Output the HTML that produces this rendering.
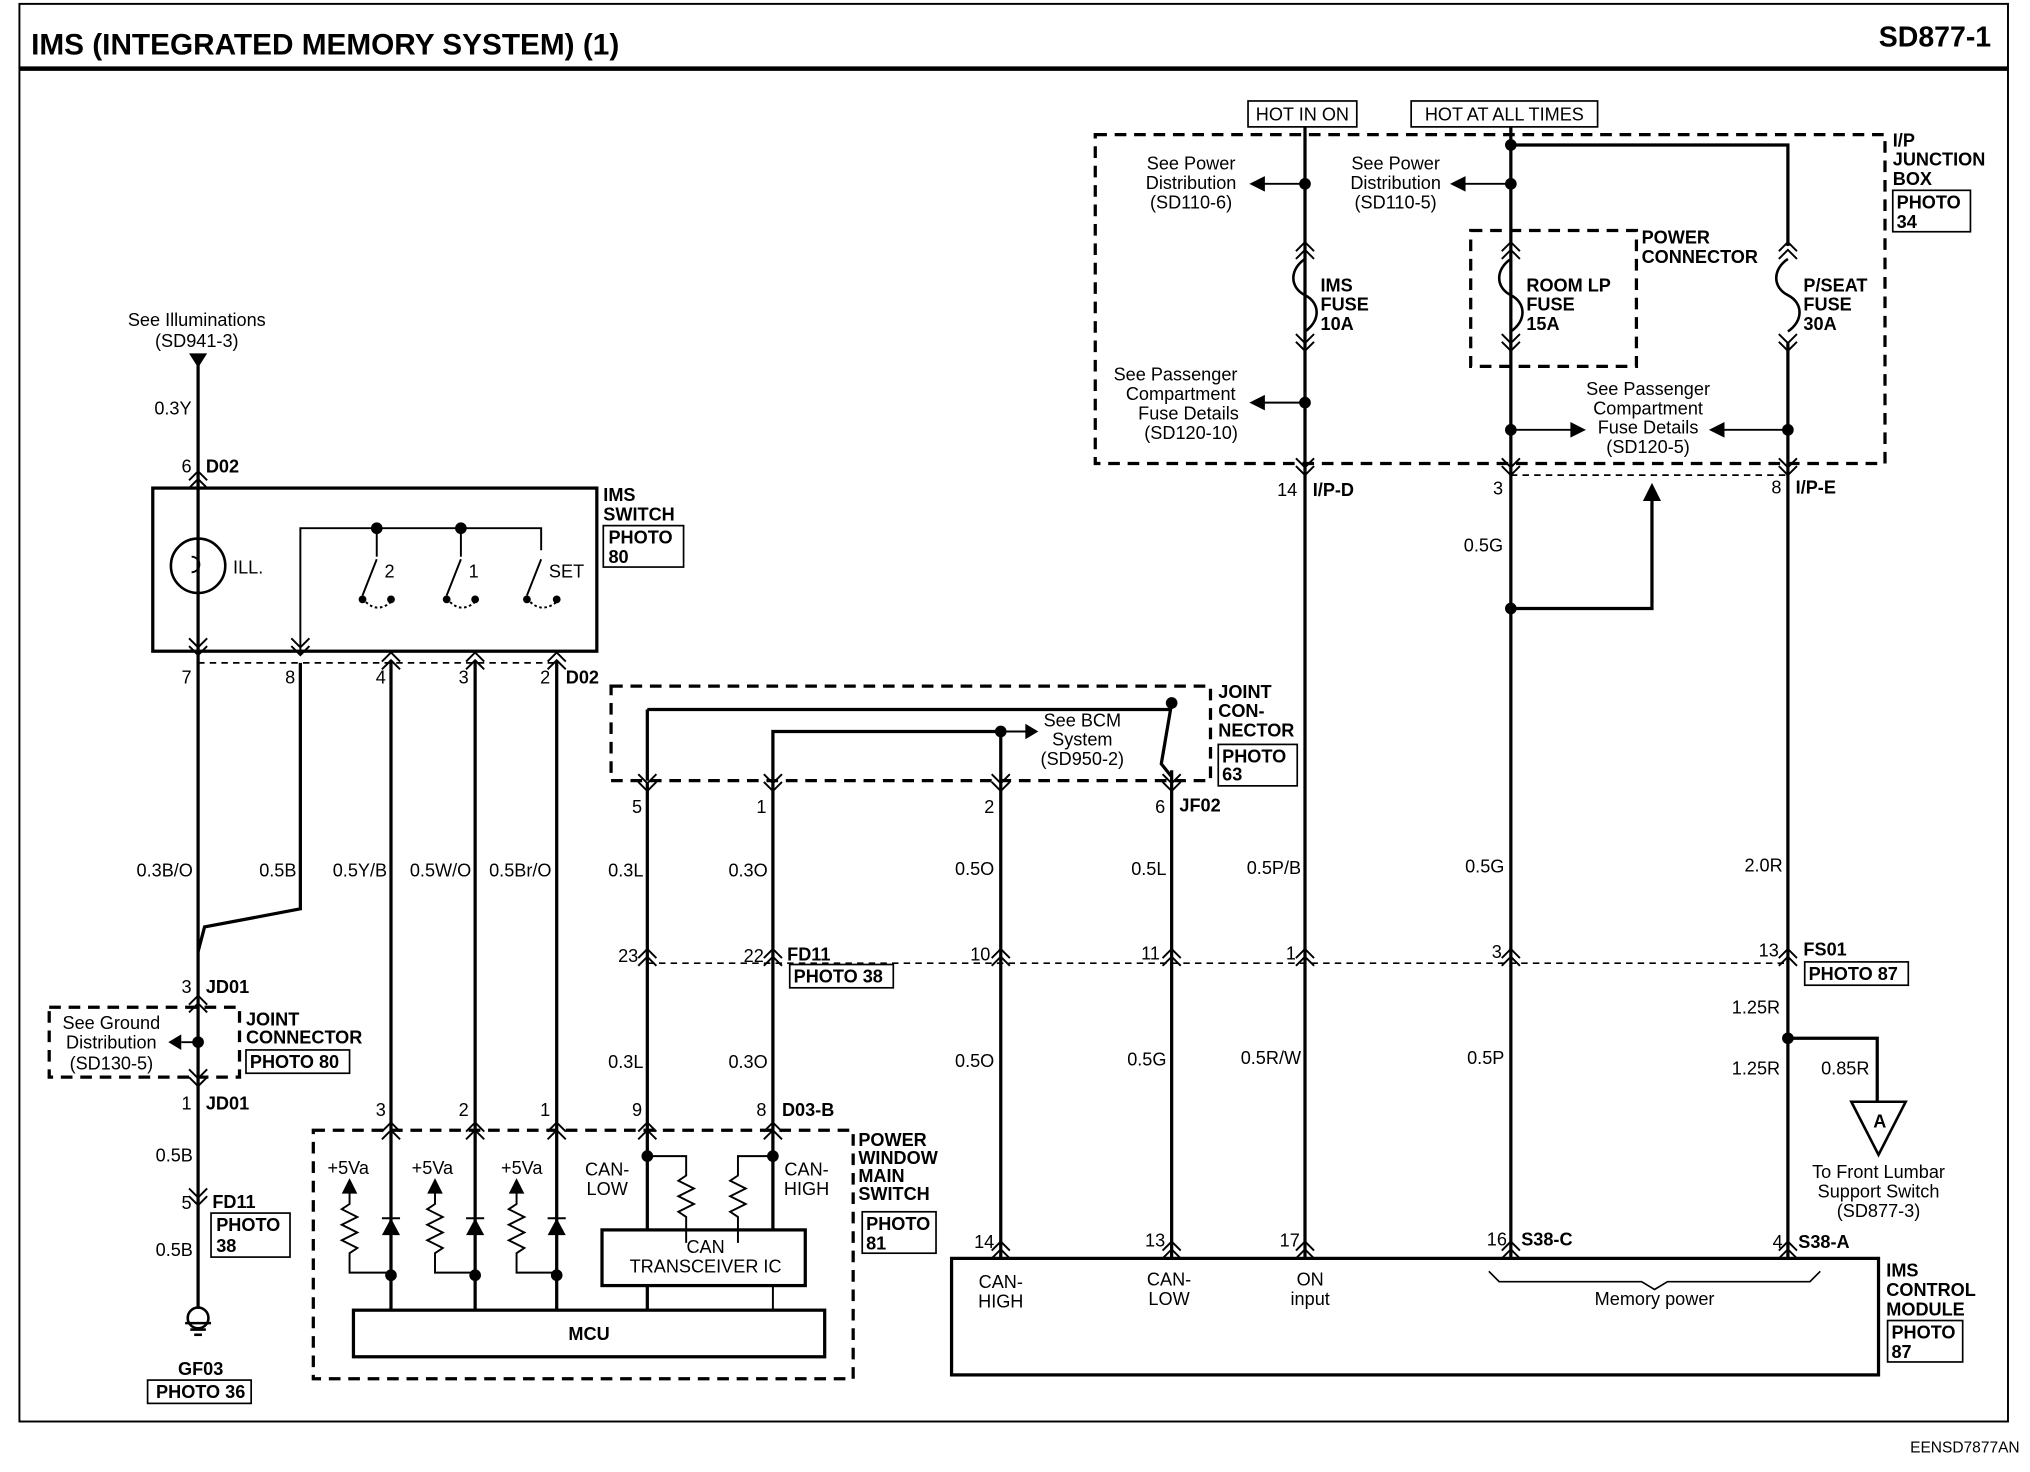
<!DOCTYPE html>
<html><head><meta charset="utf-8"><style>
html,body{margin:0;padding:0;background:#fff}
svg{display:block}
text{font-family:"Liberation Sans",Arial,sans-serif;font-size:14px;fill:#000}
.b{font-weight:bold}
</style></head><body>
<svg width="2030" height="1472" viewBox="0 0 1568 1137" xmlns="http://www.w3.org/2000/svg">
<defs>
<g id="u" fill="none" stroke="#000" stroke-width="1.5"><path d="M-7,6 L0,-1 L7,6 M-7,12 L0,5 L7,12"/></g>
<g id="d" fill="none" stroke="#000" stroke-width="1.5"><path d="M-7,-6 L0,1 L7,-6 M-7,-12 L0,-5 L7,-12"/></g>
</defs>
<g fill="none" stroke="#000">
<rect x="15" y="3" width="1536" height="1095" stroke-width="1.5"/>
<line x1="15" y1="53" x2="1551" y2="53" stroke-width="3.5"/>

<g stroke-width="2.5">
<line x1="153" y1="278" x2="153" y2="1010"/>
<polyline points="232,512 232,702 158,716 153,735"/>
<line x1="302" y1="510" x2="302" y2="1012"/>
<line x1="367" y1="510" x2="367" y2="1012"/>
<line x1="430" y1="510" x2="430" y2="1012"/>
<line x1="500" y1="605" x2="500" y2="950"/>
<line x1="500" y1="993" x2="500" y2="1012"/>
<line x1="597" y1="605" x2="597" y2="950"/>
<line x1="773" y1="565" x2="773" y2="972"/>
<line x1="905" y1="595" x2="905" y2="972"/>
<line x1="1008" y1="98" x2="1008" y2="972"/>
<line x1="1167" y1="98" x2="1167" y2="972"/>
<polyline points="1167,112 1381,112 1381,190"/>
<line x1="1381" y1="265" x2="1381" y2="972"/>
<polyline points="1167,470 1276,470 1276,385"/>
<polyline points="1381,802 1450,802 1450,850"/>
<polyline points="500,548 500,603"/>
<polyline points="500,548 905,548"/>
<polyline points="597,603 597,565 773,565"/>
<polyline points="905,543 897,590 905,600"/>
</g>
<g stroke-width="1.5">
<line x1="153" y1="805" x2="140" y2="805"/>
<line x1="1008" y1="142" x2="975" y2="142"/>
<line x1="1008" y1="311" x2="975" y2="311"/>
<line x1="1167" y1="142" x2="1130" y2="142"/>
<line x1="1167" y1="332" x2="1215" y2="332"/>
<line x1="1381" y1="332" x2="1330" y2="332"/>
<line x1="773" y1="565" x2="795" y2="565"/>
</g>
<g stroke-width="2">
<path d="M1008,200 C996,208 996,222 1008,228 C1020,234 1020,248 1008,256"/>
<path d="M1167,200 C1155,208 1155,222 1167,228 C1179,234 1179,248 1167,256"/>
<path d="M1381,200 C1369,208 1369,222 1381,228 C1393,234 1393,248 1381,256"/>
</g>

<rect x="118" y="377" width="343" height="126" stroke-width="2.5"/>
<rect x="273" y="1012" width="364" height="36" stroke-width="2.5"/>
<rect x="465" y="950" width="157" height="43" stroke-width="2.5"/>
<rect x="735" y="972" width="716" height="90" stroke-width="2.5"/>
<rect x="964" y="78" width="84" height="20" stroke-width="1.3"/>
<rect x="1090" y="78" width="144" height="20" stroke-width="1.3"/>
<g stroke-width="1.3">
<rect x="466" y="406" width="62" height="32"/>
<rect x="190" y="811" width="80" height="18"/>
<rect x="163" y="937" width="61" height="34"/>
<rect x="114" y="1066" width="80" height="18"/>
<rect x="941" y="575" width="61" height="32"/>
<rect x="610" y="745" width="80" height="18"/>
<rect x="666" y="936" width="57" height="32"/>
<rect x="1394" y="743" width="80" height="18"/>
<rect x="1462" y="147" width="60" height="32"/>
<rect x="1458" y="1020" width="58" height="32"/>
</g>
<g stroke-width="2.5" stroke-dasharray="9,6">
<rect x="846" y="104" width="610" height="254"/>
<rect x="1136" y="178" width="128" height="105"/>
<rect x="472" y="530" width="463" height="73"/>
<rect x="242" y="873" width="417" height="192"/>
<rect x="38" y="778" width="147" height="54"/>
</g>
<g stroke-width="1.3" stroke-dasharray="5,4">
<line x1="153" y1="512" x2="432" y2="512"/>
<line x1="500" y1="744" x2="1381" y2="744"/>
<line x1="1167" y1="367" x2="1381" y2="367"/>
</g>

<circle cx="153" cy="437" r="21" stroke-width="2"/>
<path d="M148,430 a5,5 0 1 1 0,12" stroke-width="1.5"/>
<g stroke-width="1.5">
<polyline points="232,505 232,408 418,408 418,425"/>
<line x1="291" y1="408" x2="291" y2="430"/>
<line x1="356" y1="408" x2="356" y2="430"/>
<line x1="291" y1="432" x2="280" y2="460"/>
<line x1="356" y1="432" x2="345" y2="460"/>
<line x1="418" y1="432" x2="407" y2="460"/>
<path d="M280,462 Q290,475 302,465" stroke-dasharray="2,2"/>
<path d="M345,462 Q355,475 367,465" stroke-dasharray="2,2"/>
<path d="M407,462 Q417,475 430,465" stroke-dasharray="2,2"/>
</g>
<g stroke-width="1.5">
<path d="M270,920 v10 l-6,4 l12,6 l-12,6 l12,6 l-12,6 l12,6 l-6,4 v15 h32"/>
<path d="M336,920 v10 l-6,4 l12,6 l-12,6 l12,6 l-12,6 l12,6 l-6,4 v15 h31"/>
<path d="M399,920 v10 l-6,4 l12,6 l-12,6 l12,6 l-12,6 l12,6 l-6,4 v15 h31"/>
<path d="M500,893 h30 v15 l-6,4 l12,6 l-12,6 l12,6 l-12,6 l6,4 v20"/>
<path d="M597,893 h-27 v15 l-6,4 l12,6 l-12,6 l12,6 l-12,6 l6,4 v20"/>
<line x1="295" y1="941" x2="309" y2="941"/>
<line x1="360" y1="941" x2="374" y2="941"/>
<line x1="423" y1="941" x2="437" y2="941"/>
<line x1="597" y1="993" x2="597" y2="1012"/>
</g>
<path d="M1150,982 l8,8 h110 l10,6 l10,-6 h110 l8,-8" stroke-width="1.3"/>
<polygon points="1430,851 1472,851 1451,892" stroke-width="2"/>
<g stroke-width="2">
<line x1="143" y1="1022" x2="163" y2="1022"/>
<line x1="147" y1="1027" x2="159" y2="1027"/>
<line x1="150" y1="1031" x2="156" y2="1031"/>
<circle cx="153" cy="1018" r="8"/>
</g>
</g>

<g fill="#000">
<polygon points="146,273 160,273 153,284"/>
<polygon points="1269,387 1283,387 1276,373"/>
<polygon points="965,142 977,136 977,148"/>
<polygon points="965,311 977,305 977,317"/>
<polygon points="1120,142 1132,136 1132,148"/>
<polygon points="1225,332 1213,326 1213,338"/>
<polygon points="1320,332 1332,326 1332,338"/>
<polygon points="140,799 140,811 130,805"/>
<polygon points="802,565 792,559 792,571"/>
<polygon points="264,922 276,922 270,910"/><polygon points="330,922 342,922 336,910"/><polygon points="393,922 405,922 399,910"/>
<polygon points="295,954 309,954 302,941"/><polygon points="360,954 374,954 367,941"/><polygon points="423,954 437,954 430,941"/>
<g>
<circle cx="1008" cy="142" r="4.5"/><circle cx="1008" cy="311" r="4.5"/><circle cx="1167" cy="112" r="4.5"/>
<circle cx="1167" cy="142" r="4.5"/><circle cx="1167" cy="332" r="4.5"/><circle cx="1381" cy="332" r="4.5"/>
<circle cx="1167" cy="470" r="4.5"/><circle cx="1381" cy="802" r="4.5"/><circle cx="153" cy="805" r="4.5"/>
<circle cx="773" cy="565" r="4.5"/><circle cx="905" cy="543" r="4.5"/>
<circle cx="291" cy="408" r="4.5"/><circle cx="356" cy="408" r="4.5"/>
<circle cx="280" cy="463" r="3"/><circle cx="302" cy="463" r="3"/><circle cx="345" cy="463" r="3"/><circle cx="367" cy="463" r="3"/><circle cx="407" cy="463" r="3"/><circle cx="430" cy="463" r="3"/>
<circle cx="302" cy="985" r="4.5"/><circle cx="367" cy="985" r="4.5"/><circle cx="430" cy="985" r="4.5"/>
<circle cx="500" cy="893" r="4.5"/><circle cx="597" cy="893" r="4.5"/>
</g>
</g>

<use href="#u" x="153" y="365"/><use href="#d" x="153" y="505"/><use href="#d" x="232" y="505"/><use href="#u" x="302" y="505"/><use href="#u" x="367" y="505"/><use href="#u" x="430" y="505"/>
<use href="#u" x="153" y="770"/><use href="#d" x="153" y="838"/><use href="#d" x="153" y="930"/>
<use href="#u" x="302" y="868"/><use href="#u" x="367" y="868"/><use href="#u" x="430" y="868"/><use href="#u" x="500" y="868"/><use href="#u" x="597" y="868"/>
<use href="#d" x="500" y="610"/><use href="#d" x="597" y="610"/><use href="#d" x="773" y="610"/><use href="#d" x="905" y="610"/>
<use href="#u" x="500" y="734"/><use href="#u" x="597" y="734"/><use href="#u" x="773" y="734"/><use href="#u" x="905" y="734"/><use href="#u" x="1008" y="734"/><use href="#u" x="1167" y="734"/><use href="#u" x="1381" y="734"/>
<use href="#d" x="1008" y="366"/><use href="#d" x="1167" y="366"/><use href="#d" x="1381" y="366"/>
<use href="#u" x="1008" y="188"/><use href="#d" x="1008" y="270"/><use href="#u" x="1167" y="188"/><use href="#d" x="1167" y="270"/><use href="#u" x="1381" y="188"/><use href="#d" x="1381" y="270"/>
<use href="#u" x="773" y="960"/><use href="#u" x="905" y="960"/><use href="#u" x="1008" y="960"/><use href="#u" x="1167" y="960"/><use href="#u" x="1381" y="960"/>

<text x="24" y="42" class="b" style="font-size:23px">IMS (INTEGRATED MEMORY SYSTEM) (1)</text>
<text x="1538" y="36" class="b" text-anchor="end" style="font-size:22px">SD877-1</text>
<text x="1560" y="1122" text-anchor="end" style="font-size:12px">EENSD7877AN</text>

<g text-anchor="middle">
<text x="152" y="252">See Illuminations</text><text x="152" y="268">(SD941-3)</text>
<text x="86" y="795">See Ground</text><text x="86" y="810">Distribution</text><text x="86" y="826">(SD130-5)</text>
<text x="155" y="1062" class="b">GF03</text><text x="155" y="1080" class="b">PHOTO 36</text>
<text x="920" y="131">See Power</text><text x="920" y="146">Distribution</text><text x="920" y="161">(SD110-6)</text>
<text x="1078" y="131">See Power</text><text x="1078" y="146">Distribution</text><text x="1078" y="161">(SD110-5)</text>
<text x="908" y="294">See Passenger</text><text x="912" y="309">Compartment</text><text x="918" y="324">Fuse Details</text><text x="920" y="339">(SD120-10)</text>
<text x="1273" y="305">See Passenger</text><text x="1273" y="320">Compartment</text><text x="1273" y="335">Fuse Details</text><text x="1273" y="350">(SD120-5)</text>
<text x="1006" y="93">HOT IN ON</text><text x="1162" y="93">HOT AT ALL TIMES</text>
<text x="836" y="561">See BCM</text><text x="836" y="576">System</text><text x="836" y="591">(SD950-2)</text>
<text x="545" y="968">CAN</text><text x="545" y="983">TRANSCEIVER IC</text>
<text x="455" y="1035" class="b">MCU</text>
<text x="773" y="995">CAN-</text><text x="773" y="1010">HIGH</text>
<text x="903" y="993">CAN-</text><text x="903" y="1008">LOW</text>
<text x="1012" y="993">ON</text><text x="1012" y="1008">input</text>
<text x="1278" y="1008">Memory power</text>
<text x="1451" y="910">To Front Lumbar</text><text x="1451" y="925">Support Switch</text><text x="1451" y="940">(SD877-3)</text>
<text x="1452" y="871" class="b">A</text>
<text x="469" y="908">CAN-</text><text x="469" y="923">LOW</text>
<text x="623" y="908">CAN-</text><text x="623" y="923">HIGH</text>
<text x="269" y="907">+5Va</text><text x="334" y="907">+5Va</text><text x="403" y="907">+5Va</text>
</g>

<g class="b">
<text x="159" y="365" class="b">D02</text>
<text x="466" y="387" class="b">IMS</text><text x="466" y="402" class="b">SWITCH</text>
<text x="470" y="420" class="b">PHOTO</text><text x="470" y="435" class="b">80</text>
<text x="437" y="528" class="b">D02</text>
<text x="159" y="767" class="b">JD01</text>
<text x="190" y="792" class="b">JOINT</text><text x="190" y="806" class="b">CONNECTOR</text>
<text x="193" y="825" class="b">PHOTO 80</text>
<text x="159" y="857" class="b">JD01</text>
<text x="164" y="933" class="b">FD11</text>
<text x="167" y="951" class="b">PHOTO</text><text x="167" y="967" class="b">38</text>
<text x="941" y="539" class="b">JOINT</text><text x="941" y="554" class="b">CON-</text><text x="941" y="569" class="b">NECTOR</text>
<text x="944" y="589" class="b">PHOTO</text><text x="944" y="603" class="b">63</text>
<text x="911" y="627" class="b">JF02</text>
<text x="608" y="742" class="b">FD11</text><text x="613" y="759" class="b">PHOTO 38</text>
<text x="604" y="862" class="b">D03-B</text>
<text x="663" y="885" class="b">POWER</text><text x="663" y="899" class="b">WINDOW</text><text x="663" y="913" class="b">MAIN</text><text x="663" y="927" class="b">SWITCH</text>
<text x="669" y="950" class="b">PHOTO</text><text x="669" y="965" class="b">81</text>
<text x="1014" y="383" class="b">I/P-D</text>
<text x="1387" y="381" class="b">I/P-E</text>
<text x="1393" y="738" class="b">FS01</text><text x="1397" y="757" class="b">PHOTO 87</text>
<text x="1175" y="962" class="b">S38-C</text><text x="1389" y="964" class="b">S38-A</text>
<text x="1462" y="113" class="b">I/P</text><text x="1462" y="128" class="b">JUNCTION</text><text x="1462" y="143" class="b">BOX</text>
<text x="1465" y="161" class="b">PHOTO</text><text x="1465" y="176" class="b">34</text>
<text x="1457" y="986" class="b">IMS</text><text x="1457" y="1001" class="b">CONTROL</text><text x="1457" y="1016" class="b">MODULE</text>
<text x="1461" y="1034" class="b">PHOTO</text><text x="1461" y="1049" class="b">87</text>
<text x="1268" y="188" class="b">POWER</text><text x="1268" y="203" class="b">CONNECTOR</text>
<text x="1020" y="225" class="b">IMS</text><text x="1020" y="240" class="b">FUSE</text><text x="1020" y="255" class="b">10A</text>
<text x="1179" y="225" class="b">ROOM LP</text><text x="1179" y="240" class="b">FUSE</text><text x="1179" y="255" class="b">15A</text>
<text x="1393" y="225" class="b">P/SEAT</text><text x="1393" y="240" class="b">FUSE</text><text x="1393" y="255" class="b">30A</text>
</g>
<text x="180" y="443">ILL.</text>
<text x="297" y="446">2</text><text x="362" y="446">1</text><text x="424" y="446">SET</text>

<g text-anchor="end">
<text x="148" y="320">0.3Y</text>
<text x="148" y="365">6</text>
<text x="148" y="528">7</text><text x="228" y="528">8</text><text x="298" y="528">4</text><text x="362" y="528">3</text><text x="425" y="528">2</text>
<text x="149" y="677">0.3B/O</text><text x="229" y="677">0.5B</text><text x="299" y="677">0.5Y/B</text><text x="364" y="677">0.5W/O</text><text x="426" y="677">0.5Br/O</text>
<text x="148" y="767">3</text><text x="148" y="857">1</text>
<text x="149" y="897">0.5B</text><text x="148" y="934">5</text><text x="149" y="970">0.5B</text>
<text x="298" y="862">3</text><text x="362" y="862">2</text><text x="425" y="862">1</text><text x="496" y="862">9</text><text x="592" y="862">8</text>
<text x="496" y="628">5</text><text x="592" y="628">1</text><text x="768" y="628">2</text><text x="900" y="628">6</text>
<text x="497" y="677">0.3L</text><text x="593" y="677">0.3O</text><text x="768" y="676">0.5O</text><text x="901" y="676">0.5L</text>
<text x="1005" y="675">0.5P/B</text><text x="1162" y="674">0.5G</text><text x="1377" y="673">2.0R</text>
<text x="493" y="743">23</text><text x="590" y="743">22</text><text x="765" y="742">10</text><text x="896" y="741">11</text><text x="1001" y="741">1</text><text x="1160" y="740">3</text><text x="1374" y="739">13</text>
<text x="497" y="825">0.3L</text><text x="593" y="825">0.3O</text><text x="768" y="824">0.5O</text><text x="901" y="823">0.5G</text><text x="1005" y="822">0.5R/W</text><text x="1162" y="822">0.5P</text>
<text x="1375" y="783">1.25R</text><text x="1375" y="830">1.25R</text><text x="1444" y="830">0.85R</text>
<text x="768" y="964">14</text><text x="900" y="963">13</text><text x="1004" y="963">17</text><text x="1164" y="962">16</text><text x="1377" y="964">4</text>
<text x="1002" y="383">14</text><text x="1161" y="382">3</text><text x="1376" y="381">8</text>
<text x="1161" y="426">0.5G</text>
</g>
</svg>
</body></html>
